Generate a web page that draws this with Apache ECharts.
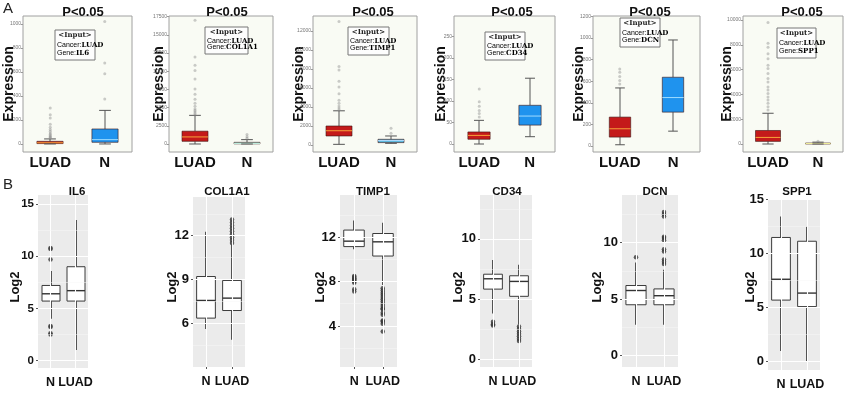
<!DOCTYPE html>
<html><head><meta charset="utf-8">
<script src="https://cdn.jsdelivr.net/npm/echarts@6/dist/echarts.min.js"></script>
<style>html,body{margin:0;padding:0;background:#fff}#c{width:850px;height:393px}</style>
</head><body><div id="c"></div>
<script>
// ---------- DATA ----------
const genes = ['IL6', 'COL1A1', 'TIMP1', 'CD34', 'DCN', 'SPP1'];
const topCats = ['LUAD', 'N'];
const botCats = ['N', 'LUAD'];
const pTitle = 'P<0.05';

// Panel A: expression box stats [min, Q1, median, Q3, max] for LUAD, N
const aIL6Box = [[0, 3, 10, 22, 42], [0, 14, 36, 125, 280]];
const aCOL1A1Box = [[0, 370, 970, 1760, 3935], [0, 20, 90, 230, 600]];
const aTIMP1Box = [[70, 950, 1500, 2000, 3600], [175, 250, 460, 600, 950]];
const aCD34Box = [[0, 11, 20, 28, 55], [17, 44, 65, 90, 153]];
const aDCNBox = [[12, 83, 160, 268, 538], [138, 314, 449, 637, 982]];
const aSPP1Box = [[0, 210, 530, 1090, 2480], [0, 20, 40, 80, 150]];

// Panel A outliers (LUAD, N)
const aIL6Out = [[48, 55, 62, 70, 80, 92, 105, 120, 140, 165, 217, 244, 300], [375, 586, 675, 1022]];
const aCOL1A1Out = [[4000, 4200, 4400, 4600, 4800, 5200, 5600, 6150, 6850, 7550, 8930, 10100, 10800, 11950, 17000], [800, 1000, 1300]];
const aTIMP1Out = [[3700, 3900, 4100, 4400, 4700, 5400, 6100, 6700, 7900, 8250, 13000], [1230, 1750]];
const aCD34Out = [[63, 71, 78, 88, 98, 128], []];
const aDCNOut = [[575, 606, 643, 683, 714], []];
const aSPP1Out = [[2750, 3000, 3280, 3550, 3800, 4080, 4350, 4600, 5000, 5280, 5680, 6080, 6350, 6880, 7280, 7800, 8130, 9800], [230]];

// Panel A tick labels
const aIL6Ticks = [0, 200, 400, 600, 800, 1000];
const aCOL1A1Ticks = [0, 2500, 5000, 7500, 10000, 12500, 15000, 17500];
const aTIMP1Ticks = [0, 2000, 4000, 6000, 8000, 10000, 12000];
const aCD34Ticks = [0, 50, 100, 150, 200, 250];
const aDCNTicks = [0, 200, 400, 600, 800, 1000, 1200];
const aSPP1Ticks = [0, 2000, 4000, 6000, 8000, 10000];

// Panel B: log2 box stats [min, Q1, median, Q3, max] for N, LUAD
const bIL6Box = [[4.0, 5.7, 6.4, 7.2, 8.6], [1.0, 5.7, 6.7, 9.0, 13.5]];
const bCOL1A1Box = [[5.6, 6.35, 7.56, 9.2, 12.27], [4.86, 6.87, 7.72, 8.93, 11.4]];
const bTIMP1Box = [[10.9, 11.15, 11.64, 12.64, 13.5], [7.7, 10.3, 11.58, 12.33, 13.3]];
const bCD34Box = [[3.8, 5.82, 6.68, 7.06, 8.25], [2.87, 5.22, 6.46, 6.93, 7.84]];
const bDCNBox = [[2.74, 4.5, 5.76, 6.2, 8.24], [2.74, 4.5, 5.3, 5.9, 7.6]];
const bSPP1Box = [[1.0, 5.7, 7.63, 11.5, 13.45], [0.0, 5.1, 6.35, 11.15, 12.5]];

// Panel B outliers (N, LUAD)
const bIL6Out = [[10.8, 10.7, 9.7, 3.3, 3.2, 2.6, 2.5], []];
const bCOL1A1Out = [[], [11.5, 11.7, 11.9, 12.1, 12.3, 12.5, 12.7, 12.9, 13.1]];
const bTIMP1Out = [[8.5, 8.4, 8.3, 8.2, 8.1, 8.0, 7.9, 7.3, 7.1], [7.4, 7.2, 7.0, 6.8, 6.6, 6.4, 6.2, 6.0, 5.8, 5.6, 5.5, 5.2, 5.0, 4.5, 4.4, 4.2, 3.5]];
const bCD34Out = [[3.1, 2.9, 2.8], [2.7, 2.5, 2.3, 2.1, 1.9, 1.7, 1.5]];
const bDCNOut = [[8.7], [8.1, 8.3, 8.5, 9.2, 9.4, 10.2, 10.4, 10.5, 12.3, 12.5, 12.7]];
const bSPP1Out = [[], []];

// Panel B tick labels (major) and minor gridlines
const bIL6Ticks = [0, 5, 10, 15];
const bCOL1A1Ticks = [6, 9, 12];
const bTIMP1Ticks = [4, 8, 12];
const bCD34Ticks = [0, 5, 10];
const bDCNTicks = [0, 5, 10];
const bSPP1Ticks = [0, 5, 10, 15];
const bIL6Minor = [2.5, 7.5, 12.5];
const bCOL1A1Minor = [4.5, 7.5, 10.5, 13.5];
const bTIMP1Minor = [2, 6, 10, 14];
const bCD34Minor = [2.5, 7.5, 12.5];
const bDCNMinor = [2.5, 7.5, 12.5];
const bSPP1Minor = [2.5, 7.5, 12.5];

// ---------- LAYOUT ----------
const aBoxes = [aIL6Box, aCOL1A1Box, aTIMP1Box, aCD34Box, aDCNBox, aSPP1Box];
const aOuts = [aIL6Out, aCOL1A1Out, aTIMP1Out, aCD34Out, aDCNOut, aSPP1Out];
const aTicks = [aIL6Ticks, aCOL1A1Ticks, aTIMP1Ticks, aCD34Ticks, aDCNTicks, aSPP1Ticks];
const bBoxes = [bIL6Box, bCOL1A1Box, bTIMP1Box, bCD34Box, bDCNBox, bSPP1Box];
const bOuts = [bIL6Out, bCOL1A1Out, bTIMP1Out, bCD34Out, bDCNOut, bSPP1Out];
const bTicks = [bIL6Ticks, bCOL1A1Ticks, bTIMP1Ticks, bCD34Ticks, bDCNTicks, bSPP1Ticks];
const bMinor = [bIL6Minor, bCOL1A1Minor, bTIMP1Minor, bCD34Minor, bDCNMinor, bSPP1Minor];

const aLay = [
  {l: 23, r: 132, min: -67, max: 1067, title: 78, expr: 9, ib: [55, 30, 40, 30], frac: 0.48, nFill: '#1f93ee', nMed: '#9fdcff'},
  {l: 169, r: 273, min: -1099, max: 17582, title: 222, expr: 159, ib: [205, 27, 43, 27], frac: 0.5, nFill: '#7fb6a8', nMed: '#cfe'},
  {l: 313, r: 417, min: -737, max: 13579, title: 368, expr: 299, ib: [348, 27, 41, 28], frac: 0.5, nFill: '#4fb3d9', nMed: '#bdf'},
  {l: 454, r: 555, min: -18.6, max: 297.7, title: 507, expr: 441, ib: [485, 32, 40, 28], frac: 0.44, nFill: '#1f93ee', nMed: '#9fdcff'},
  {l: 593, r: 700, min: -55, max: 1204, title: 645, expr: 579, ib: [620, 18, 40, 29], frac: 0.4, nFill: '#1f93ee', nMed: '#9fdcff'},
  {l: 743, r: 843, min: -645, max: 10323, title: 797, expr: 727, ib: [777, 28, 39, 30], frac: 0.5, nFill: '#b9c46a', nMed: '#ee9'}
];
const bLay = [
  {l: 38, r: 88, t: 195, b: 368, min: -0.73, max: 15.89, title: 72, log: 15, fs: 11.5},
  {l: 193, r: 245, t: 197, b: 367, min: 3.0, max: 14.65, title: 222, log: 172, fs: 13},
  {l: 340, r: 397, t: 195, b: 367, min: 0.3, max: 15.8, title: 368, log: 320, fs: 13},
  {l: 480, r: 532, t: 195, b: 367, min: -0.66, max: 13.65, title: 502, log: 458, fs: 13},
  {l: 622, r: 678, t: 195, b: 367, min: -1.0, max: 14.2, title: 650, log: 597, fs: 13},
  {l: 768, r: 820, t: 199, b: 370, min: -0.77, max: 15.06, title: 792, log: 750, fs: 13}
];

function boxRenderer(fills, meds, stroke, caps, frac, lw) {
  return function (params, api) {
    const xi = api.value(0);
    const v = [api.value(1), api.value(2), api.value(3), api.value(4), api.value(5)];
    const cx = Math.round(api.coord([xi, v[2]])[0]);
    const y = v.map(d => api.coord([xi, d])[1]);
    const bw = api.size([1, 0])[0] * frac;
    const cw = bw * 0.45;
    const ls = {stroke: stroke, lineWidth: lw};
    const ch = [
      {type: 'line', shape: {x1: cx, y1: y[4], x2: cx, y2: y[3]}, style: ls},
      {type: 'line', shape: {x1: cx, y1: y[1], x2: cx, y2: y[0]}, style: ls},
      {type: 'rect', shape: {x: cx - bw / 2, y: y[3], width: bw, height: Math.max(y[1] - y[3], 1)},
        style: {fill: fills[xi], stroke: caps ? 'rgba(60,20,20,0.6)' : stroke, lineWidth: 1}},
      {type: 'line', shape: {x1: cx - bw / 2, y1: y[2], x2: cx + bw / 2, y2: y[2]}, style: {stroke: meds[xi], lineWidth: caps ? 1 : 1.4}}
    ];
    if (caps) {
      ch.push({type: 'line', shape: {x1: cx - cw / 2, y1: y[4], x2: cx + cw / 2, y2: y[4]}, style: ls});
      ch.push({type: 'line', shape: {x1: cx - cw / 2, y1: y[0], x2: cx + cw / 2, y2: y[0]}, style: ls});
    }
    return {type: 'group', children: ch};
  };
}

const grid = [], xAxis = [], yAxis = [], series = [], title = [], graphic = [];

graphic.push({type: 'text', left: 3, top: 1, style: {text: 'A', font: '15px Liberation Sans, Arial', fill: '#222'}});
graphic.push({type: 'text', left: 3, top: 177, style: {text: 'B', font: '15px Liberation Sans, Arial', fill: '#222'}});

aLay.forEach((L, i) => {
  const gi = grid.length;
  grid.push({left: L.l, top: 16, width: L.r - L.l, height: 136, show: true, backgroundColor: '#f9fbf4', borderColor: '#a0a0a0', borderWidth: 1, containLabel: false});
  xAxis.push({type: 'category', gridIndex: gi, data: topCats, axisLine: {show: false}, axisTick: {show: false},
    axisLabel: {interval: 0, fontWeight: 'bold', fontSize: 15, color: '#111', margin: 3, fontFamily: 'Liberation Sans, Arial'}});
  yAxis.push({type: 'value', gridIndex: gi, min: L.min, max: L.max, splitLine: {show: false}, axisLine: {show: false},
    axisTick: {show: true, length: 2, customValues: aTicks[i], lineStyle: {color: '#999'}},
    axisLabel: {customValues: aTicks[i], fontSize: 5, color: '#777', margin: 2, formatter: v => String(v)}});
  const fills = ['#c41a1a', L.nFill];
  const meds = ['#f6a33a', L.nMed];
  series.push({type: 'custom', xAxisIndex: gi, yAxisIndex: gi, z: 3,
    renderItem: boxRenderer(fills, meds, '#555', true, L.frac, 1),
    encode: {x: 0, y: [1, 2, 3, 4, 5]},
    data: aBoxes[i].map((b, k) => [k].concat(b))});
  const pts = [];
  aOuts[i].forEach((arr, k) => arr.forEach(v => pts.push([topCats[k], v])));
  series.push({type: 'scatter', xAxisIndex: gi, yAxisIndex: gi, z: 4, symbolSize: 3, silent: true,
    itemStyle: {color: 'rgba(140,140,140,0.55)'}, data: pts});
  title.push({text: pTitle, left: L.title, top: 1, textAlign: 'center',
    textStyle: {fontSize: 13, fontWeight: 'bold', color: '#111', fontFamily: 'Liberation Sans, Arial'}});
  graphic.push({type: 'text', x: L.expr, y: 84, rotation: Math.PI / 2,
    style: {text: 'Expression', font: 'bold 14px Liberation Sans, Arial', fill: '#111', textAlign: 'center', textVerticalAlign: 'middle'}});
  const [bx, by, bwid, bh] = L.ib;
  graphic.push({type: 'group', x: bx, y: by, z: 10, children: [
    {type: 'rect', shape: {x: 0, y: 0, width: bwid, height: bh}, style: {fill: '#fdfdfd', stroke: '#777', lineWidth: 1}},
    {type: 'text', x: bwid / 2, y: 2, style: {text: '<Input>', font: 'bold 7px DejaVu Serif', fill: '#222', textAlign: 'center'}},
    {type: 'text', x: 2, y: bh / 2 - 3, style: {text: '{a|Cancer:}{b|LUAD}', rich: {a: {fontSize: 7, color: '#888', fontFamily: 'Liberation Sans'}, b: {fontSize: 7, fontWeight: 'bold', color: '#333', fontFamily: 'DejaVu Serif'}}}},
    {type: 'text', x: 2, y: bh - 10, style: {text: '{a|Gene:}{b|' + genes[i] + '}', rich: {a: {fontSize: 7, color: '#888', fontFamily: 'Liberation Sans'}, b: {fontSize: 7, fontWeight: 'bold', color: '#333', fontFamily: 'DejaVu Serif'}}}}
  ]});
});

bLay.forEach((L, i) => {
  const gi = grid.length;
  grid.push({left: L.l, top: L.t, width: L.r - L.l, height: L.b - L.t, show: true, backgroundColor: '#ebebeb', borderWidth: 0});
  xAxis.push({type: 'category', gridIndex: gi, data: botCats, axisLine: {show: false},
    axisTick: {show: true, alignWithLabel: true, length: 2, lineStyle: {color: '#555'}},
    axisLabel: {interval: 0, fontWeight: 'bold', fontSize: 12.5, color: '#111', margin: 8, fontFamily: 'Liberation Sans, Arial'}});
  yAxis.push({type: 'value', gridIndex: gi, min: L.min, max: L.max, splitLine: {show: false}, axisLine: {show: false},
    axisTick: {show: true, length: 2, customValues: bTicks[i], lineStyle: {color: '#555'}},
    axisLabel: {customValues: bTicks[i], fontSize: L.fs, fontWeight: 'bold', color: '#111', margin: 4, fontFamily: 'Liberation Sans, Arial'}});
  // gridlines
  series.push({type: 'line', xAxisIndex: gi, yAxisIndex: gi, z: 1, data: [], silent: true,
    markLine: {silent: true, symbol: 'none', animation: false, label: {show: false},
      lineStyle: {color: '#ffffff', width: 1.1, type: 'solid'},
      data: bTicks[i].map(t => ({yAxis: t})).concat(botCats.map(c => ({xAxis: c})))}});
  series.push({type: 'line', xAxisIndex: gi, yAxisIndex: gi, z: 1, data: [], silent: true,
    markLine: {silent: true, symbol: 'none', animation: false, label: {show: false},
      lineStyle: {color: '#f7f7f7', width: 0.5, type: 'solid'},
      data: bMinor[i].map(t => ({yAxis: t}))}});
  series.push({type: 'custom', xAxisIndex: gi, yAxisIndex: gi, z: 3,
    renderItem: boxRenderer(['#ffffff', '#ffffff'], ['#333', '#333'], '#3a3a3a', false, 0.72, 1.8),
    encode: {x: 0, y: [1, 2, 3, 4, 5]},
    data: bBoxes[i].map((b, k) => [k].concat(b))});
  const pts = [];
  bOuts[i].forEach((arr, k) => arr.forEach(v => pts.push([botCats[k], v])));
  series.push({type: 'scatter', xAxisIndex: gi, yAxisIndex: gi, z: 4, symbolSize: 4.5, silent: true,
    itemStyle: {color: '#333'}, data: pts});
  title.push({text: genes[i], left: L.title, top: 181, textAlign: 'center',
    textStyle: {fontSize: 11.5, fontWeight: 'bold', color: '#111', fontFamily: 'Liberation Sans, Arial'}});
  graphic.push({type: 'text', x: L.log, y: 287, rotation: Math.PI / 2,
    style: {text: 'Log2', font: 'bold 13px Liberation Sans, Arial', fill: '#111', textAlign: 'center', textVerticalAlign: 'middle'}});
});

const chart = echarts.init(document.getElementById('c'), null, {renderer: 'canvas'});
chart.setOption({animation: false, backgroundColor: '#ffffff', grid, xAxis, yAxis, series, title, graphic});
</script></body></html>
